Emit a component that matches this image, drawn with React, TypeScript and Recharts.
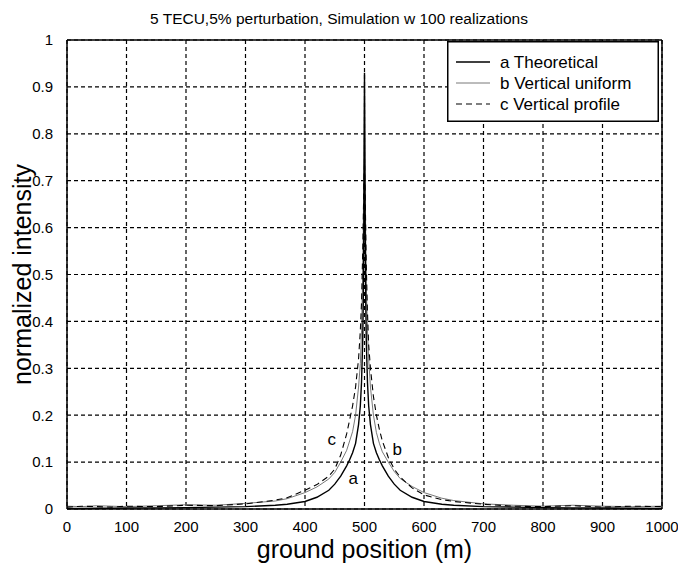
import React from 'react';
import { LineChart, Line, XAxis, YAxis, CartesianGrid, ReferenceLine, ReferenceDot, Legend } from 'recharts';

// ground positions (m) where the intensity curves are sampled
const positions = [
  0, 25, 50, 75, 100, 150, 200, 250, 300, 350, 370, 400, 420, 440, 450, 460, 470, 475, 480, 485,
  490, 493, 495, 497, 498, 499, 500, 501, 502, 503, 505, 507, 510, 515, 520, 525, 530, 540, 550, 560,
  580, 600, 630, 650, 700, 750, 800, 850, 900, 950, 1000,
];

// a: theoretical
const theoretical = [
  0.001, 0.001, 0.0015, 0.0015, 0.002, 0.0025, 0.003, 0.004, 0.005, 0.008, 0.01, 0.016, 0.025, 0.04, 0.053, 0.07, 0.092, 0.105, 0.12, 0.14,
  0.18, 0.22, 0.27, 0.36, 0.45, 0.62, 0.93, 0.62, 0.45, 0.36, 0.27, 0.22, 0.18, 0.14, 0.12, 0.105, 0.092, 0.07, 0.053, 0.04,
  0.025, 0.016, 0.01, 0.008, 0.005, 0.004, 0.003, 0.0025, 0.002, 0.0015, 0.001,
];

// b: vertical uniform
const verticalUniform = [
  0.006, 0.005, 0.007, 0.006, 0.005, 0.007, 0.009, 0.008, 0.012, 0.017, 0.022, 0.035, 0.047, 0.064, 0.078, 0.1, 0.125, 0.145, 0.165, 0.2,
  0.26, 0.31, 0.38, 0.5, 0.6, 0.75, 0.9, 0.72, 0.58, 0.48, 0.38, 0.32, 0.26, 0.2, 0.163, 0.14, 0.122, 0.1, 0.08, 0.065,
  0.048, 0.035, 0.023, 0.018, 0.011, 0.008, 0.006, 0.008, 0.006, 0.005, 0.006,
];

// c: vertical profile
const verticalProfile = [
  0.004, 0.006, 0.005, 0.004, 0.006, 0.005, 0.008, 0.007, 0.011, 0.019, 0.024, 0.04, 0.052, 0.07, 0.085, 0.115, 0.16, 0.19, 0.22, 0.26,
  0.32, 0.38, 0.44, 0.55, 0.62, 0.7, 0.74, 0.68, 0.6, 0.52, 0.42, 0.35, 0.3, 0.24, 0.2, 0.17, 0.145, 0.11, 0.085, 0.068,
  0.045, 0.03, 0.02, 0.016, 0.01, 0.006, 0.005, 0.007, 0.004, 0.006, 0.005,
];

const xTicks = [0, 100, 200, 300, 400, 500, 600, 700, 800, 900, 1000];
const yTicks = [0, 0.1, 0.2, 0.3, 0.4, 0.5, 0.6, 0.7, 0.8, 0.9, 1];

// letters that tag each curve
const curveTags = [
  { tag: 'c', x: 445, y: 0.15 },
  { tag: 'a', x: 481, y: 0.066 },
  { tag: 'b', x: 555, y: 0.128 },
];

const legendRows = [
  { name: 'a Theoretical', stroke: '#000', width: 1.4, dash: undefined as string | undefined },
  { name: 'b Vertical uniform', stroke: '#555', width: 0.8, dash: undefined as string | undefined },
  { name: 'c Vertical profile', stroke: '#000', width: 1.1, dash: '6 4' },
];

const font = 'Arial, "Liberation Sans", Helvetica, sans-serif';

const data = positions.map((x, i) => ({
  x,
  a: theoretical[i],
  b: verticalUniform[i],
  c: verticalProfile[i],
}));

const renderLegend = () => (
  <svg width={212} height={81} style={{ display: 'block' }}>
    <rect x={0.75} y={0.75} width={210.5} height={79.5} fill="#fff" stroke="#000" strokeWidth={1.5} />
    {legendRows.map((row, i) => {
      const y = 21 + i * 21;
      return (
        <g key={row.name}>
          <line x1={9} x2={43} y1={y} y2={y} stroke={row.stroke} strokeWidth={row.width} strokeDasharray={row.dash} />
          <text x={53} y={y + 6} fontSize={17} fontFamily={font} fill="#000">
            {row.name}
          </text>
        </g>
      );
    })}
  </svg>
);

const fmt = (v: number) => String(Number(v.toFixed(1)));

export default function App() {
  return (
    <div style={{ position: 'absolute', left: 0, top: 0, width: 678, height: 566, background: '#fff' }}>
      <div
        style={{
          position: 'absolute',
          top: 10,
          left: 0,
          width: 678,
          textAlign: 'center',
          fontFamily: font,
          fontSize: 15.5,
          color: '#000',
        }}
      >
        5 TECU,5% perturbation, Simulation w 100 realizations
      </div>
      <LineChart width={678} height={566} data={data} margin={{ top: 40, right: 16, bottom: 0, left: 0 }}>
        <CartesianGrid stroke="#000" strokeDasharray="4 3" strokeWidth={1.2} />
        <XAxis
          dataKey="x"
          type="number"
          domain={[0, 1000]}
          ticks={xTicks}
          interval={0}
          height={57}
          tickLine={false}
          tickMargin={6}
          axisLine={{ stroke: '#000', strokeWidth: 1.5 }}
          tick={{ fill: '#000', fontSize: 15, fontFamily: font }}
          label={{ value: 'ground position (m)', position: 'insideBottom', offset: 8, fill: '#000', fontSize: 25, fontFamily: font }}
        />
        <YAxis
          type="number"
          domain={[0, 1]}
          ticks={yTicks}
          interval={0}
          width={67}
          tickLine={false}
          tickMargin={8}
          tickFormatter={fmt}
          axisLine={{ stroke: '#000', strokeWidth: 1.5 }}
          tick={{ fill: '#000', fontSize: 15, fontFamily: font }}
          label={{
            value: 'normalized intensity',
            angle: -90,
            position: 'insideLeft',
            offset: 22,
            fill: '#000',
            fontSize: 25,
            fontFamily: font,
            style: { textAnchor: 'middle' },
          }}
        />
        <ReferenceLine y={1} stroke="#000" strokeWidth={1.5} />
        <ReferenceLine x={1000} stroke="#000" strokeWidth={1.5} />
        <Line type="linear" dataKey="b" stroke="#555" strokeWidth={0.8} dot={false} isAnimationActive={false} />
        <Line type="linear" dataKey="c" stroke="#000" strokeWidth={1.1} strokeDasharray="6 4" dot={false} isAnimationActive={false} />
        <Line type="linear" dataKey="a" stroke="#000" strokeWidth={1.4} dot={false} isAnimationActive={false} />
        {curveTags.map((t) => (
          <ReferenceDot
            key={t.tag}
            x={t.x}
            y={t.y}
            r={0}
            stroke="none"
            label={{ value: t.tag, position: 'center', fill: '#000', fontSize: 17, fontFamily: font }}
          />
        ))}
        <Legend
          content={renderLegend}
          layout="horizontal"
          verticalAlign="middle"
          align="center"
          wrapperStyle={{ top: 41, left: 447, width: 212, height: 81 }}
        />
      </LineChart>
    </div>
  );
}
